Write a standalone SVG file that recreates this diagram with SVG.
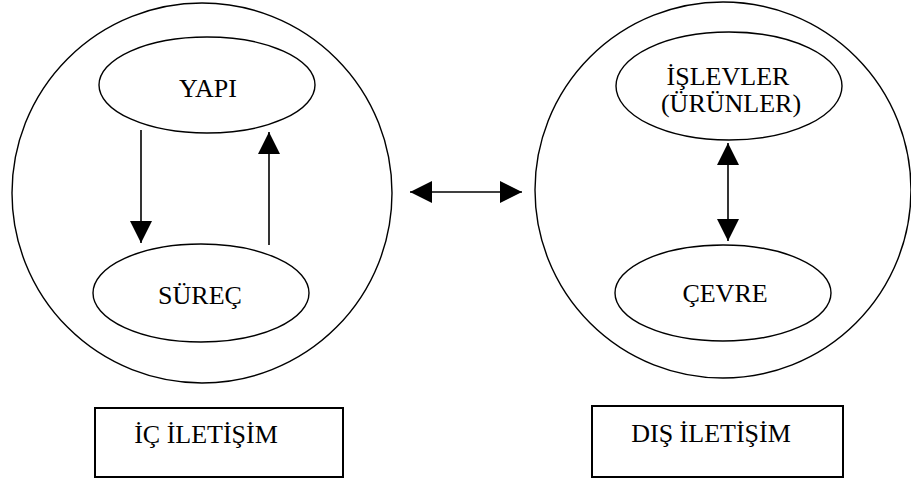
<svg xmlns="http://www.w3.org/2000/svg" width="911" height="481" viewBox="0 0 911 481">
<style>
.sh{fill:none;stroke:#000;stroke-width:1.4}
.bx{fill:none;stroke:#000;stroke-width:2}
.t{font-family:"Liberation Serif","Times New Roman",serif;font-size:26px;fill:#000;text-anchor:middle}
.c{stroke:#000;stroke-width:1.6;fill:none}
</style>
<defs>
<marker id="ah" markerUnits="userSpaceOnUse" markerWidth="22" markerHeight="22" viewBox="0 0 20 20" refX="20" refY="10" orient="auto-start-reverse">
<path d="M0,0 L20,10 L0,20 Z" fill="#000"/>
</marker>
</defs>
<rect width="911" height="481" fill="#fff"/>
<g id="ic-cevre"><circle class="sh" cx="202" cy="193" r="190"/></g>
<g id="dis-cevre"><ellipse class="sh" cx="723" cy="190" rx="188" ry="188"/></g>
<g id="yapi"><ellipse class="sh" cx="207" cy="85" rx="108" ry="48"/><text class="t" x="208" y="97">YAPI</text></g>
<g id="surec"><ellipse class="sh" cx="201" cy="293" rx="108" ry="49"/><text class="t" x="200" y="304">SÜREÇ</text></g>
<g id="islevler"><ellipse class="sh" cx="729" cy="86" rx="113" ry="54"/><text class="t" x="728" y="85">İŞLEVLER</text><text class="t" x="731" y="112">(ÜRÜNLER)</text></g>
<g id="cevre"><ellipse class="sh" cx="723" cy="293" rx="108" ry="48"/><text class="t" x="725" y="302">ÇEVRE</text></g>
<g id="ic-iletisim"><rect class="bx" x="95" y="408" width="248" height="69"/><text class="t" x="206" y="443">İÇ İLETİŞİM</text></g>
<g id="dis-iletisim"><rect class="bx" x="592" y="406" width="251" height="71"/><text class="t" x="711" y="442">DIŞ İLETİŞİM</text></g>
<g id="connectors">
<line class="c" x1="141" y1="130" x2="141" y2="243" marker-end="url(#ah)"/>
<line class="c" x1="269" y1="245" x2="269" y2="132" marker-end="url(#ah)"/>
<line class="c" x1="410" y1="192" x2="522" y2="192" marker-start="url(#ah)" marker-end="url(#ah)"/>
<line class="c" x1="728" y1="143" x2="728" y2="241" marker-start="url(#ah)" marker-end="url(#ah)"/>
</g>
</svg>
